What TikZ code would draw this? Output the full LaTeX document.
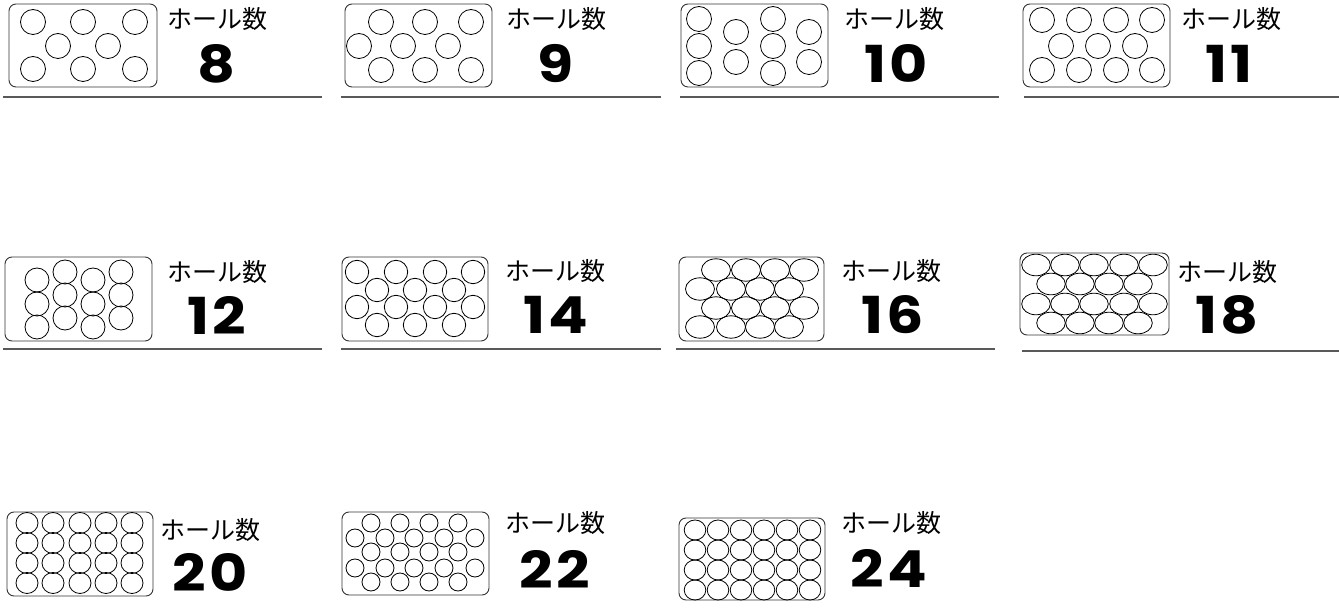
\documentclass[tikz,border=0pt]{standalone}
\usepackage{fontspec}
\newfontfamily\jpfont{Noto Sans CJK JP}
\newfontfamily\numfont{Poppins}[FakeStretch=1.15,LetterSpace=6]

\begin{document}
\begin{tikzpicture}[x=1pt,y=-1pt,
  plate/.style={draw=black!80,line width=0.9pt,rounded corners=7pt},
  hole/.style={draw,line width=0.8pt},
  rule/.style={draw=black!65,line width=1.4pt},
  holetext/.style={font=\jpfont\fontsize{25}{25}\selectfont,inner sep=0pt},
  holenum/.style={font=\numfont\bfseries\fontsize{51}{51}\selectfont,inner sep=0pt}]
  \useasboundingbox (0,0) rectangle (1339,609);
  % 8 holes
  \draw[plate] (9,4) rectangle (157,87);
  \foreach \x/\y in {33/22,83/22,135/22,58/46,108/46,33/69,83/69,135/69}
    \draw[hole] (\x,\y) circle (12.5);
  \node[holetext] (t8) at (217,19) {ホール数};
  \node[holenum] (n8) at (217,64) {8};
  \draw[rule] (3,97) -- (322,97);
  % 9 holes
  \draw[plate] (345,4) rectangle (492,87);
  \foreach \x/\y in {381/22,425/22,471/22,359/46,403/46,448/46,381/70,425/70,471/70}
    \draw[hole] (\x,\y) circle (12.5);
  \node[holetext] (t9) at (556,19) {ホール数};
  \node[holenum] (n9) at (556,64) {9};
  \draw[rule] (341,97) -- (661,97);
  % 10 holes
  \draw[plate] (681,4) rectangle (828,87);
  \foreach \x/\y in {699/19,699/46,699/73,736/32,736/62,773/19,773/46,773/73,809/32,809/62}
    \draw[hole] (\x,\y) circle (12.5);
  \node[holetext] (t10) at (894,19) {ホール数};
  \node[holenum] (n10) at (896,64) {10};
  \draw[rule] (680,97) -- (999,97);
  % 11 holes
  \draw[plate] (1023,4) rectangle (1170,87);
  \foreach \x in {1042,1079,1116,1152}
    \foreach \y in {20,70}
      \draw[hole] (\x,\y) circle (12.5);
  \foreach \x in {1061,1098,1135}
    \draw[hole] (\x,46) circle (12.5);
  \node[holetext] (t11) at (1231,19) {ホール数};
  \node[holenum] (n11) at (1229,64) {11};
  \draw[rule] (1024,97) -- (1339,97);

  % 12 holes
  \draw[plate] (5,257) rectangle (152,341);
  \foreach \x in {37,93}
    \foreach \y in {280,304,327}
      \draw[hole] (\x,\y) circle (12);
  \foreach \x in {65,121}
    \foreach \y in {272,295,318}
      \draw[hole] (\x,\y) circle (12);
  \node[holetext] (t12) at (217,272) {ホール数};
  \node[holenum] (n12) at (217,315) {12};
  \draw[rule] (3,349) -- (322,349);
  % 14 holes
  \draw[plate] (342,257) rectangle (488,341);
  \foreach \x in {357,396,435,473}
    \foreach \y in {272,307}
      \draw[hole] (\x,\y) circle (11.7);
  \foreach \x in {377,415,454}
    \foreach \y in {290,325}
      \draw[hole] (\x,\y) circle (11.7);
  \node[holetext] (t14) at (555,271) {ホール数};
  \node[holenum] (n14) at (556,315) {14};
  \draw[rule] (341,349) -- (661,349);
  % 16 holes
  \draw[plate] (679,257) rectangle (824,341);
  \foreach \x in {716,746,775,804}
    \foreach \y in {270,308}
      \draw[hole] (\x,\y) ellipse [x radius=14.5,y radius=11.2];
  \foreach \x in {700,731,760,789}
    \foreach \y in {289,327}
      \draw[hole] (\x,\y) ellipse [x radius=14.5,y radius=11.2];
  \node[holetext] (t16) at (891,271) {ホール数};
  \node[holenum] (n16) at (893,315) {16};
  \draw[rule] (676,349) -- (995,349);
  % 18 holes
  \draw[plate] (1020,253) rectangle (1169,335);
  \foreach \x in {1036,1065,1094,1124,1153}
    \foreach \y in {265,304}
      \draw[hole] (\x,\y) ellipse [x radius=14.3,y radius=10.8];
  \foreach \x in {1051,1080,1109,1138}
    \foreach \y in {284,323}
      \draw[hole] (\x,\y) ellipse [x radius=14.3,y radius=10.8];
  \node[holetext] (t18) at (1227,272) {ホール数};
  \node[holenum] (n18) at (1227,315) {18};
  \draw[rule] (1022,351) -- (1339,351);

  % 20 holes
  \draw[plate] (7,512) rectangle (153,596);
  \foreach \x in {27,53,80,106,132}
    \foreach \y in {523,543,563,583}
      \draw[hole] (\x,\y) ellipse [x radius=11,y radius=10.5];
  \node[holetext] (t20) at (210,530) {ホール数};
  \node[holenum] (n20) at (210,572) {20};
  % 22 holes
  \draw[plate] (342,512) rectangle (489,595);
  \foreach \x in {371,400,429,458}
    \foreach \y in {523,552,582}
      \draw[hole] (\x,\y) circle (9);
  \foreach \x in {355,385,414,444,475}
    \foreach \y in {538,568}
      \draw[hole] (\x,\y) circle (9);
  \node[holetext] (t22) at (555,523) {ホール数};
  \node[holenum] (n22) at (555,569) {22};
  % 24 holes
  \draw[plate] (679,518) rectangle (825,600);
  \foreach \x in {695,718,741,764,787,810}
    \foreach \y in {530,550,570,590}
      \draw[hole] (\x,\y) ellipse [x radius=10.8,y radius=10];
  \node[holetext] (t24) at (891,523) {ホール数};
  \node[holenum] (n24) at (889,568) {24};
\end{tikzpicture}
\end{document}
